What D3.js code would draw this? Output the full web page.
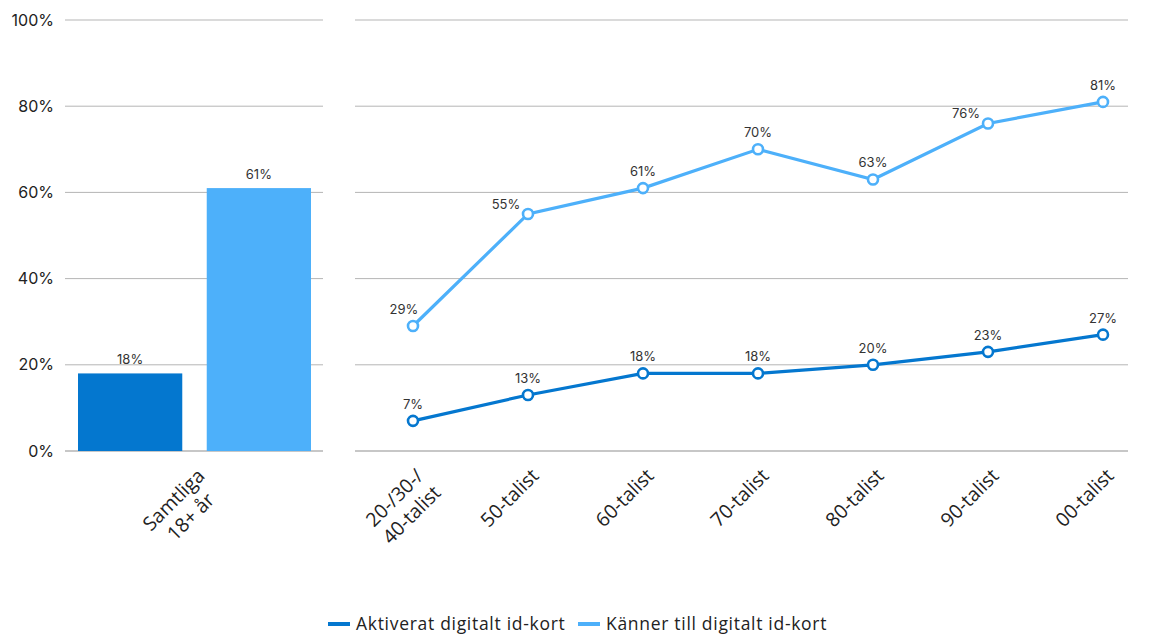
<!DOCTYPE html>
<html><head><meta charset="utf-8">
<script src="https://cdn.jsdelivr.net/npm/d3@7/dist/d3.min.js"></script>
<style>body{margin:0;background:#fff}svg{display:block;font-family:Inter,"Open Sans",sans-serif}</style>
</head><body><svg id="c" width="1156" height="635"></svg>
<script>
const seriesNames = ["Aktiverat digitalt id-kort", "Känner till digitalt id-kort"];
const colors = ["#0477cf", "#4db0fa"];
const totalCategory = ["Samtliga", "18+ år"];
const totalValues = [18, 61];
const cohorts = [["20-/30-/", "40-talist"], ["50-talist"], ["60-talist"], ["70-talist"], ["80-talist"], ["90-talist"], ["00-talist"]];
const aktiverat = [7, 13, 18, 18, 20, 23, 27];
const kanner = [29, 55, 61, 70, 63, 76, 81];
const yTicks = [0, 20, 40, 60, 80, 100];
// label placement: "t" = above, "l" = above-left
const kannerLabelSide = ["tl", "l", "t", "t", "t", "l", "t"];

const svg = d3.select("#c");
const y = d3.scaleLinear().domain([0, 100]).range([451, 20]);

// gridlines
const panels = [[65, 323], [355, 1128]];
panels.forEach(([a, b]) => {
  svg.append("g").selectAll("line").data(yTicks).join("line")
    .attr("x1", a).attr("x2", b).attr("y1", d => y(d)).attr("y2", d => y(d))
    .attr("stroke", d => d === 0 ? "#8f8f8f" : "#b5b5b5").attr("stroke-width", 1);
});
// y axis
const yAxis = d3.axisLeft(y).tickValues(yTicks).tickFormat(d => d + "%").tickSize(0).tickPadding(0);
const ga = svg.append("g").attr("transform", "translate(54,0)").call(yAxis);
ga.select(".domain").remove();
ga.selectAll("text").attr("font-size", 16).attr("fill", "#222").attr("font-family", "Inter, sans-serif");

// bars
const xb = d3.scaleBand().domain([0, 1]).range([78, 311]).paddingInner(0.19).paddingOuter(0);
svg.append("g").selectAll("rect").data(totalValues).join("rect")
  .attr("x", (d, i) => xb(i)).attr("width", xb.bandwidth())
  .attr("y", d => y(d)).attr("height", d => y(0) - y(d))
  .attr("fill", (d, i) => colors[i]);
svg.append("g").selectAll("text").data(totalValues).join("text")
  .attr("x", (d, i) => xb(i) + xb.bandwidth() / 2).attr("y", d => y(d) - 9)
  .attr("text-anchor", "middle").attr("font-size", 13).attr("fill", "#333")
  .text(d => d + "%");

// rotated multi-line category label, block right-aligned, lines centered
function catLabel(cx, lines) {
  const g = svg.append("g").attr("transform", `translate(${cx + 12},477) rotate(-45)`);
  const ts = lines.map((l, k) => g.append("text").attr("font-size", 19.5).attr("fill", "#222")
    .attr("font-family", "'Open Sans', sans-serif")
    .attr("text-anchor", "middle").attr("y", k * 24).text(l));
  const w = d3.max(ts, t => t.node().getComputedTextLength());
  ts.forEach(t => t.attr("x", -w / 2));
}
catLabel((65 + 323) / 2, totalCategory);

// line panel
const xp = d3.scalePoint().domain(d3.range(cohorts.length)).range([413, 1103]);
const line = d3.line().x((d, i) => xp(i)).y(d => y(d));
[aktiverat, kanner].forEach((vals, s) => {
  svg.append("path").datum(vals).attr("d", line).attr("fill", "none")
    .attr("stroke", colors[s]).attr("stroke-width", 3.2);
  svg.append("g").selectAll("circle").data(vals).join("circle")
    .attr("cx", (d, i) => xp(i)).attr("cy", d => y(d)).attr("r", 5)
    .attr("fill", "#fff").attr("stroke", colors[s]).attr("stroke-width", 2.6);
  svg.append("g").selectAll("text").data(vals).join("text")
    .attr("font-size", 13).attr("fill", "#333").attr("text-anchor", "middle")
    .attr("x", (d, i) => {
      const side = s === 1 ? kannerLabelSide[i] : "t";
      return xp(i) + (side === "l" ? -22 : side === "tl" ? -9 : 0);
    })
    .attr("y", (d, i) => {
      const side = s === 1 ? kannerLabelSide[i] : "t";
      return y(d) + (side === "l" ? -5 : -12);
    })
    .text(d => d + "%");
});
cohorts.forEach((c, i) => catLabel(xp(i), c));

// legend
const lg = svg.append("g").attr("transform", "translate(328,624)");
const legX = [0, 250];
seriesNames.forEach((n, i) => {
  const g = lg.append("g").attr("transform", `translate(${legX[i]},0)`);
  g.append("line").attr("x1", 0).attr("x2", 22).attr("stroke", colors[i]).attr("stroke-width", 4);
  g.append("text").attr("x", 28).attr("y", 6).attr("font-size", 17.5).attr("letter-spacing", 0.7)
    .attr("font-family", "'Open Sans', sans-serif").attr("fill", "#222").text(n);
});
</script></body></html>
